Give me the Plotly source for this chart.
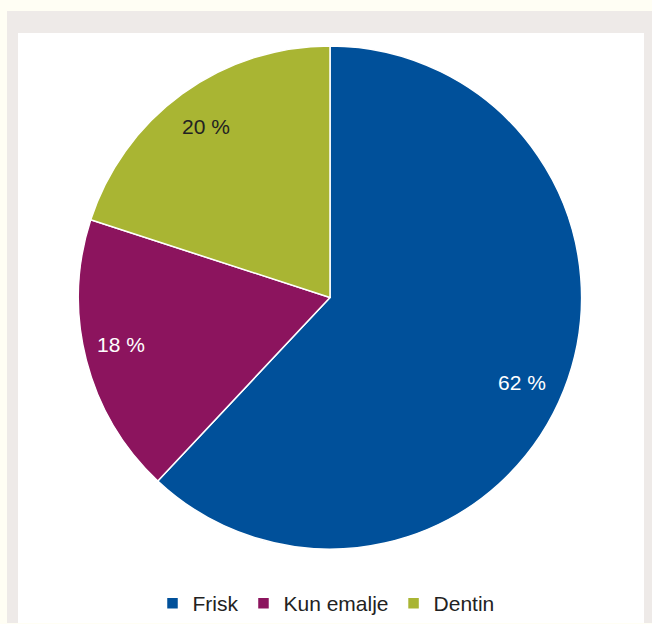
import math
import plotly.graph_objects as go

labels = ["Frisk", "Kun emalje", "Dentin"]
values = [62, 18, 20]
colors = ["#00509A", "#8C145E", "#A9B533"]
text_colors = ["#FFFFFF", "#FFFFFF", "#222222"]
label_radius = [0.82, 0.80, 0.84]  # fraction of pie radius for each label
label_shift = [(0, -9), (-14, 3), (0, 0)]  # pixel nudges (x, y-up)

W, H = 652, 624
cx, cy, R = 330, 298, 252  # pie centre / radius in pixels

fig = go.Figure()
fig.add_trace(go.Pie(
    labels=labels, values=values, textinfo="none",
    sort=False, direction="clockwise", rotation=0,
    marker=dict(colors=colors, line=dict(color="white", width=1.5)),
    domain=dict(x=[(cx - R)/W, (cx + R)/W], y=[1-(cy + R)/H, 1-(cy - R)/H]),
    hoverinfo="label+percent",
))

# labels placed at the slice mid-angles
total = sum(values)
annotations = []
acc = 0
for lab, v, tc, rf, (dx, dy) in zip(labels, values, text_colors, label_radius, label_shift):
    mid = (acc + v/2) / total * 2 * math.pi
    acc += v
    x = cx + rf * R * math.sin(mid)
    y = cy - rf * R * math.cos(mid)
    annotations.append(dict(x=x/W, y=1-y/H, xref="paper", yref="paper", showarrow=False,
                            xanchor="center", yanchor="middle", xshift=dx, yshift=dy,
                            text=f"{v} %", font=dict(family="Liberation Sans, Arial", size=21, color=tc)))

fig.update_layout(
    width=W, height=H,
    margin=dict(l=0, r=0, t=0, b=0),
    paper_bgcolor="#FFFEF4",
    plot_bgcolor="#FFFEF4",
    font=dict(family="Liberation Sans, Arial", color="#222222"),
    showlegend=True,
    legend=dict(orientation="h", x=0.5, xanchor="center", y=1-604/H, yanchor="middle",
                font=dict(size=21, color="#222222"), bgcolor="rgba(0,0,0,0)",
                itemwidth=30),
    annotations=annotations,
    shapes=[
        dict(type="rect", xref="paper", yref="paper", x0=7/W, x1=1, y0=0, y1=1-11/H,
             fillcolor="#EEEAE8", line=dict(width=0), layer="below"),
        dict(type="rect", xref="paper", yref="paper", x0=18/W, x1=644/W, y0=0, y1=1-33/H,
             fillcolor="#FFFFFF", line=dict(width=0), layer="below"),
    ],
)

fig.write_html("out.html", config={"displayModeBar": False},
               post_script="document.body.style.margin='0';document.body.style.overflow='hidden';")
